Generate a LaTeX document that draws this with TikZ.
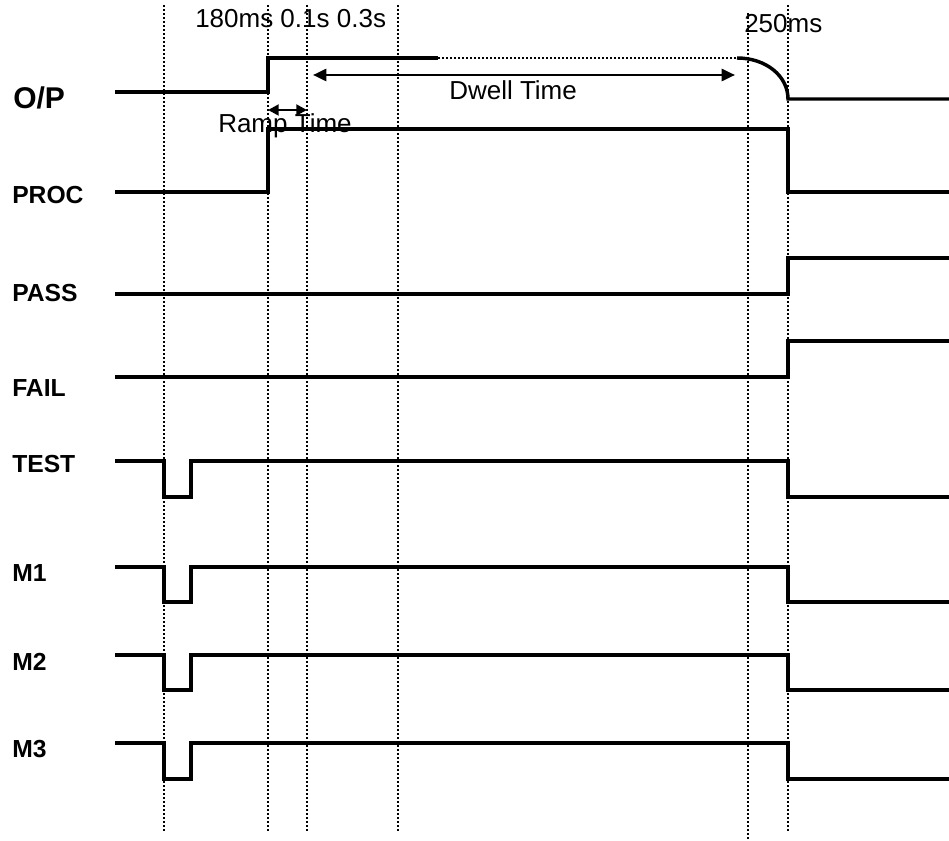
\documentclass[tikz,border=0pt]{standalone}
\usepackage{fontspec}
\setmainfont{Liberation Sans}
\usetikzlibrary{arrows.meta}

\begin{document}
\begin{tikzpicture}[x=0.75pt, y=-0.75pt, >={Triangle[length=10pt,width=9pt]}]
\tikzset{sig/.style={line width=2.6pt, line join=miter}, grid/.style={line width=1.9pt, dash pattern=on 1.5pt off 1.5pt}, lbl/.style={anchor=west, inner sep=0pt, font=\fontsize{18.5}{20}\selectfont\bfseries}, txt/.style={anchor=base west, inner sep=0pt, font=\fontsize{19.5}{22}\selectfont}, dim/.style={<->, line width=2pt}}
\useasboundingbox (0,0) rectangle (949,841);
% time markers
\foreach \x in {164,268,307,398,788} \draw[grid] (\x,5) -- (\x,833);
\draw[grid] (748,13) -- (748,841);
% signal names
\node[lbl, font=\fontsize{22.5}{24}\selectfont\bfseries] (op) at (13,98) {O/P};
\foreach \n/\t/\y in {proc/PROC/195, pass/PASS/293, fail/FAIL/388, test/TEST/464, mone/M1/573, mtwo/M2/662, mthree/M3/749} \node[lbl] (\n) at (12,\y) {\t};
% output waveform
\draw[sig] (115,92) -| (268,58) -- (438,58);
\draw[line width=1.5pt, dash pattern=on 1.5pt off 1.5pt] (438,58) -- (737,58);
\draw[sig] (737,58) .. controls (766,58) and (788,76) .. (788,99) -- (949,99);
% status lines
\draw[sig] (115,192) -| (268,129) -| (788,192) -- (949,192);
\foreach \l/\h in {294/258, 377/341} \draw[sig] (115,\l) -| (788,\h) -- (949,\h);
\foreach \h/\l in {461/497, 567/602, 655/690, 743/779} \draw[sig] (115,\h) -| (164,\l) -| (191,\h) -| (788,\l) -- (949,\l);
% timings
\coordinate (dwl) at (313,75);
\coordinate (dwr) at (735,75);
\coordinate (rpl) at (268,110);
\coordinate (rpr) at (307,110);
\draw[dim] (dwl) -- (dwr);
\draw[dim, >={Triangle[length=8pt,width=8pt]}] (rpl) -- (rpr);
\node[txt] (dwell) at (449,100) {Dwell Time};
\node[txt] (ramp) at (218,133) {Ramp Time};
\node[txt] (times) at (195,28) {180ms 0.1s 0.3s};
\node[txt] (fall) at (744,33) {250ms};
\end{tikzpicture}
\end{document}
